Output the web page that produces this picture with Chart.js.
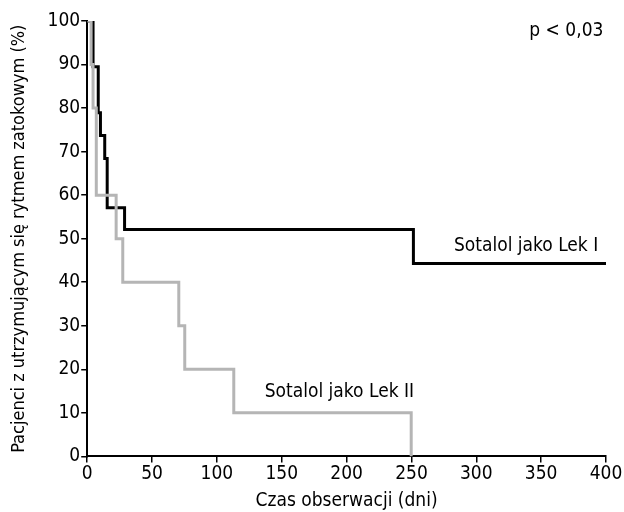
<!DOCTYPE html>
<html>
<head>
<meta charset="utf-8">
<script src="https://cdn.jsdelivr.net/npm/chart.js@4"></script>
<style>
  html, body { margin: 0; padding: 0; background: #fff; }
  #wrap { width: 624px; height: 512px; }
</style>
</head>
<body>
<div id="wrap"><canvas id="wykres"></canvas></div>
<script>
// Krzywe Kaplana-Meiera: czas (dni) i odsetek pacjentów w rytmie zatokowym
const czasLekI = [0, 4.5, 8.5, 10.2, 13.5, 15.4, 28.8, 251.5, 400];
const odsetekLekI = [100, 89.5, 78.9, 73.7, 68.4, 57.1, 52.1, 44.3, 44.3];

const czasLekII = [0, 3, 4.5, 7, 22.3, 27.4, 70.6, 75.2, 113, 249.8];
const odsetekLekII = [100, 90, 80, 60, 50, 40, 30, 20, 10, 0];

const tickiX = [0, 50, 100, 150, 200, 250, 300, 350, 400];
const tickiY = [0, 10, 20, 30, 40, 50, 60, 70, 80, 90, 100];

// podpisy na wykresie (pozycja w jednostkach danych)
const podpisy = [
    { tekst: "Sotalol jako Lek I", x: 394, y: 48.3 },
    { tekst: "Sotalol jako Lek II", x: 252, y: 14.7 },
    { tekst: "p < 0,03", x: 398, y: 97.6 }
];

const czcionka = "'DejaVu Sans Condensed', 'Liberation Sans Narrow', 'Liberation Sans', sans-serif";

function punkty(czas, wartosci) {
    return czas.map((t, i) => ({ x: t, y: wartosci[i] }));
}

const podpisyPlugin = {
    id: "podpisy",
    afterDatasetsDraw(chart) {
        const ctx = chart.ctx;
        const sx = chart.scales.x, sy = chart.scales.y;
        ctx.save();
        ctx.fillStyle = "#000";
        ctx.font = "19px " + czcionka;
        ctx.textAlign = "right";
        ctx.textBaseline = "middle";
        podpisy.forEach(p => {
            ctx.fillText(p.tekst, sx.getPixelForValue(p.x), sy.getPixelForValue(p.y));
        });
        ctx.restore();
    }
};

new Chart(document.getElementById("wykres"), {
    type: "line",
    data: {
        datasets: [
            {
                label: "Sotalol jako Lek II",
                data: punkty(czasLekII, odsetekLekII),
                borderColor: "#b5b5b5",
                borderWidth: 3,
                stepped: "before",
                pointRadius: 0,
                fill: false
            },
            {
                label: "Sotalol jako Lek I",
                data: punkty(czasLekI, odsetekLekI),
                borderColor: "#000",
                borderWidth: 3,
                stepped: "before",
                pointRadius: 0,
                fill: false
            }
        ]
    },
    options: {
        responsive: true,
        maintainAspectRatio: false,
        animation: false,
        layout: { padding: { top: 21, right: 18, left: 9, bottom: 0 } },
        plugins: { legend: { display: false }, tooltip: { enabled: false } },
        scales: {
            x: {
                type: "linear",
                min: 0,
                max: 400,
                afterBuildTicks: axis => { axis.ticks = tickiX.map(v => ({ value: v })); },
                grid: { drawOnChartArea: false, color: "#000", tickLength: 6, lineWidth: 1.5 },
                border: { color: "#000", width: 2 },
                ticks: { color: "#000", font: { size: 19, family: czcionka }, padding: 0, maxRotation: 0 },
                title: { display: true, text: "Czas obserwacji (dni)", color: "#000", font: { size: 19, family: czcionka }, padding: { top: 4, bottom: 0 } }
            },
            y: {
                min: 0,
                max: 100,
                afterBuildTicks: axis => { axis.ticks = tickiY.map(v => ({ value: v })); },
                grid: { drawOnChartArea: false, color: "#000", tickLength: 6, lineWidth: 1.5 },
                border: { color: "#000", width: 2 },
                ticks: { color: "#000", font: { size: 19, family: czcionka }, padding: 1 },
                title: { display: true, text: "Pacjenci z utrzymującym się rytmem zatokowym (%)", color: "#000", font: { size: 18, family: czcionka }, padding: { top: 0, bottom: 16 } }
            }
        }
    },
    plugins: [podpisyPlugin]
});
</script>
</body>
</html>
